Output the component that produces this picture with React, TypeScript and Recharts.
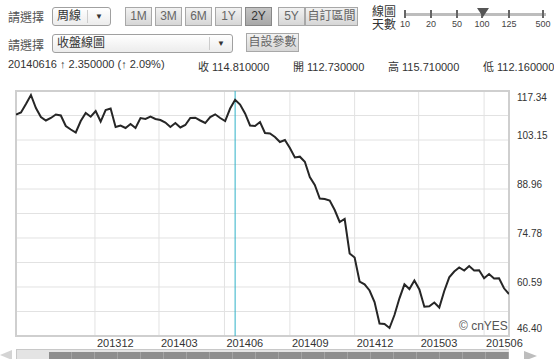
import React from "react";
import {
  LineChart,
  Line,
  XAxis,
  YAxis,
  CartesianGrid,
  ReferenceLine,
  ReferenceArea,
} from "recharts";

// weekly closes, one entry per week (Monday date)
const weeks = [
  "20130812", "20130819", "20130826", "20130902", "20130909", "20130916", "20130923", "20130930",
  "20131007", "20131014", "20131021", "20131028", "20131104", "20131111", "20131118", "20131125",
  "20131202", "20131209", "20131216", "20131223", "20131230",
  "20140106", "20140113", "20140120", "20140127", "20140203", "20140210", "20140217", "20140224",
  "20140303", "20140310", "20140317", "20140324", "20140331", "20140407", "20140414", "20140421",
  "20140428", "20140505", "20140512", "20140519", "20140526", "20140602", "20140609", "20140616",
  "20140623", "20140630", "20140707", "20140714", "20140721", "20140728", "20140804", "20140811",
  "20140818", "20140825", "20140901", "20140908", "20140915", "20140922", "20140929", "20141006",
  "20141013", "20141020", "20141027", "20141103", "20141110", "20141117", "20141124", "20141201",
  "20141208", "20141215", "20141222", "20141229",
  "20150105", "20150112", "20150119", "20150126", "20150202", "20150209", "20150216", "20150223",
  "20150302", "20150309", "20150316", "20150323", "20150330", "20150406", "20150413", "20150420",
  "20150427", "20150504", "20150511", "20150518", "20150525", "20150601", "20150608", "20150615",
  "20150622", "20150629", "20150706",
];

const closes = [
  110.48, 111.11, 113.58, 116.18, 112.42, 109.81, 108.8, 109.52, 110.54, 110.25,
  107.21, 106.19, 105.32, 108.65, 110.97, 109.9, 111.55, 108.5, 111.84, 112.27,
  106.9, 107.35, 106.63, 107.8, 106.63, 109.52, 109.23, 109.9, 109.23, 108.94,
  108.22, 106.92, 108.07, 106.77, 107.49, 109.52, 109.61, 108.8, 108.07, 109.81,
  110.59, 109.52, 108.65, 112.27, 114.81, 113.43, 110.83, 107.35, 107.21, 108.36,
  105.18, 105.03, 104.02, 102.57, 103.15, 100.84, 98.09, 98.32, 96.87, 92.44,
  90.12, 86.21, 86.07, 85.63, 82.88, 79.41, 80.28, 70.29, 69.13, 62.18,
  61.37, 59.58, 56.25, 50.02, 49.87, 48.72, 52.48, 57.31, 61.37, 60.0,
  62.47, 59.87, 54.88, 55.0, 56.1, 54.65, 59.43, 63.4, 65.08, 66.23,
  65.36, 66.67, 65.36, 65.42, 63.11, 64.35, 63.05, 63.11, 60.21, 58.56,
];

const monthTicks = ["201312", "201403", "201406", "201409", "201412", "201503", "201506"];
const yTicks = [46.4, 53.49, 60.59, 67.68, 74.78, 81.87, 88.96, 96.06, 103.15, 110.25, 117.34];
const yMin = 46.4;
const yMax = 117.34;
const cursorWeek = "20140616";
const rangeButtons = ["1M", "3M", "6M", "1Y", "2Y", "5Y"];
const activeRange = "2Y";
const dayLabels = ["10", "20", "50", "100", "125", "500"];
const quoteLine = [
  "20140616 ↑ 2.350000 (↑ 2.09%)",
  "收 114.810000",
  "開 112.730000",
  "高 115.710000",
  "低 112.160000",
];

const toTs = (s: string) =>
  Date.UTC(+s.slice(0, 4), +s.slice(4, 6) - 1, s.length > 6 ? +s.slice(6, 8) : 1);

const data = weeks.map((w, i) => ({ t: toTs(w), close: closes[i] }));
const xTicks = monthTicks.map(toTs);
const xStart = data[0].t;
const xEnd = data[data.length - 1].t;

const FONT = "Arial, 'Liberation Sans', 'Noto Sans CJK TC', sans-serif";

function XTick(props: any) {
  const { x, y, payload } = props;
  const d = new Date(payload.value);
  const label = `${d.getUTCFullYear()}${String(d.getUTCMonth() + 1).padStart(2, "0")}`;
  return (
    <text x={x + 2} y={y + 11} fontSize={11} fill="#333" fontFamily={FONT} textAnchor="start">
      {label}
    </text>
  );
}

function YTick(props: any) {
  const { x, y, payload, index } = props;
  if (index % 2 !== 0) return null;
  let by = y - 1;
  if (payload.value === yMax) by = y + 10;
  if (payload.value === yMin) by = y - 4;
  return (
    <text x={x + 8} y={by} fontSize={10} fill="#333" fontFamily={FONT} textAnchor="start">
      {payload.value.toFixed(2)}
    </text>
  );
}

const btn: React.CSSProperties = {
  position: "absolute",
  top: 7,
  height: 17,
  border: "1px solid #a8a8a8",
  background: "linear-gradient(#f2f2f2, #d6d6d6)",
  fontSize: 12,
  color: "#666",
  textAlign: "center",
  lineHeight: "17px",
  whiteSpace: "nowrap",
};

function Select({ left, top, width, text }: { left: number; top: number; width: number; text: string }) {
  return (
    <div
      style={{
        position: "absolute",
        left,
        top,
        width,
        height: 17,
        border: "1px solid #a0a0a0",
        borderRadius: 3,
        background: "linear-gradient(#ffffff, #ececec)",
        fontSize: 12,
        lineHeight: "17px",
        color: "#333",
        whiteSpace: "nowrap",
      }}
    >
      <span style={{ position: "absolute", left: 4 }}>{text}</span>
      <span style={{ position: "absolute", right: 22, top: 2, bottom: 2, borderLeft: "1px solid #ccc" }} />
      <span style={{ position: "absolute", right: 7, top: 0, fontSize: 8, color: "#333" }}>▼</span>
    </div>
  );
}

const dayPos = [405, 431, 457, 482, 509, 543];
const buttonLeft = [125, 155, 185, 215, 245, 278];
const quoteLeft = [8, 198, 293, 388, 483];

export default function App() {
  return (
    <div
      style={{
        position: "absolute",
        left: 0,
        top: 0,
        width: 554,
        height: 359,
        overflow: "hidden",
        background: "#fff",
        fontFamily: FONT,
      }}
    >
      {/* row 1 */}
      <div style={{ position: "absolute", left: 8, top: 8, fontSize: 12, color: "#555" }}>請選擇</div>
      <Select left={52} top={7} width={57} text="周線" />
      {rangeButtons.map((b, i) => (
        <div
          key={b}
          style={{
            ...btn,
            left: buttonLeft[i],
            width: 25,
            background: b === activeRange ? "linear-gradient(#c4c4c4, #a8a8a8)" : btn.background,
            color: b === activeRange ? "#333" : "#666",
            border: b === activeRange ? "1px solid #888" : btn.border,
          }}
        >
          {b}
        </div>
      ))}
      <div style={{ ...btn, left: 305, width: 51 }}>自訂區間</div>

      <div style={{ position: "absolute", left: 372, top: 6, fontSize: 12, lineHeight: "12px", color: "#333" }}>
        線圖
      </div>
      <div style={{ position: "absolute", left: 372, top: 19, fontSize: 12, lineHeight: "12px", color: "#333" }}>
        天數
      </div>
      <div style={{ position: "absolute", left: 404, top: 13, width: 142, height: 3, background: "#bdbdbd" }} />
      {dayLabels.map((d, i) => (
        <React.Fragment key={d}>
          <div style={{ position: "absolute", left: dayPos[i] - 1, top: 10, width: 2, height: 8, background: "#666" }} />
          <div
            style={{
              position: "absolute",
              left: dayPos[i] - 12,
              width: 24,
              top: 19,
              fontSize: 9,
              textAlign: "center",
              color: "#444",
            }}
          >
            {d}
          </div>
        </React.Fragment>
      ))}
      <div
        style={{
          position: "absolute",
          left: 477,
          top: 8,
          width: 0,
          height: 0,
          borderLeft: "6px solid transparent",
          borderRight: "6px solid transparent",
          borderTop: "9px solid #555",
        }}
      />

      {/* row 2 */}
      <div style={{ position: "absolute", left: 8, top: 36, fontSize: 12, color: "#555" }}>請選擇</div>
      <Select left={52} top={34} width={179} text="收盤線圖" />
      <div style={{ ...btn, top: 33, left: 246, width: 51 }}>自設參數</div>

      {/* row 3 */}
      {quoteLine.map((t, i) => (
        <div
          key={t}
          style={{ position: "absolute", left: quoteLeft[i], top: 58, fontSize: 11, color: "#333", whiteSpace: "nowrap" }}
        >
          {t}
        </div>
      ))}

      {/* chart */}
      <div style={{ position: "absolute", left: 0, top: 80 }}>
        <LineChart width={554} height={279} data={data} margin={{ top: 11, right: 0, bottom: 0, left: 16 }}>
          <CartesianGrid stroke="#e2e2e2" strokeWidth={1} />
          <XAxis
            dataKey="t"
            type="number"
            domain={[xStart, xEnd]}
            ticks={xTicks}
            height={23}
            axisLine={false}
            tickLine={false}
            tickSize={0}
            tickMargin={0}
            tick={<XTick />}
            interval={0}
            allowDataOverflow
          />
          <YAxis
            orientation="right"
            type="number"
            domain={[yMin, yMax]}
            ticks={yTicks}
            width={45}
            axisLine={false}
            tickLine={false}
            tickSize={0}
            tickMargin={0}
            tick={<YTick />}
            interval={0}
            allowDataOverflow
          />
          <ReferenceArea
            x1={xStart}
            x2={xEnd}
            y1={yMin}
            y2={yMax}
            fill="#fff"
            fillOpacity={0}
            stroke="#cfcfcf"
            strokeWidth={2}
          />
          <ReferenceLine x={toTs(cursorWeek)} stroke="#2fb1c7" strokeWidth={1} />
          <Line
            type="linear"
            dataKey="close"
            stroke="#262626"
            strokeWidth={2}
            dot={false}
            isAnimationActive={false}
          />
        </LineChart>
      </div>
      <div style={{ position: "absolute", left: 459, top: 319, fontSize: 12, color: "#555", whiteSpace: "nowrap" }}>
        © cnYES
      </div>

      {/* navigator */}
      <div
        style={{
          position: "absolute",
          left: 0,
          top: 350,
          width: 0,
          height: 0,
          borderTop: "5px solid transparent",
          borderBottom: "5px solid transparent",
          borderRight: "12px solid #d4d4d4",
        }}
      />
      <div
        style={{
          position: "absolute",
          left: 16,
          top: 349,
          width: 492,
          height: 10,
          background: "#e4e4e4",
          borderTop: "1px solid #c8c8c8",
          borderLeft: "1px solid #c8c8c8",
        }}
      >
        <div
          style={{
            position: "absolute",
            left: 32,
            top: 2,
            right: 0,
            bottom: 0,
            background: "repeating-linear-gradient(90deg, #8e8e8e 0px, #8e8e8e 22px, #a4a4a4 22px, #a4a4a4 23px)",
          }}
        />
      </div>
      <div
        style={{
          position: "absolute",
          left: 524,
          top: 351,
          width: 0,
          height: 0,
          borderTop: "5px solid transparent",
          borderBottom: "5px solid transparent",
          borderLeft: "13px solid #bdbdbd",
        }}
      />
    </div>
  );
}
